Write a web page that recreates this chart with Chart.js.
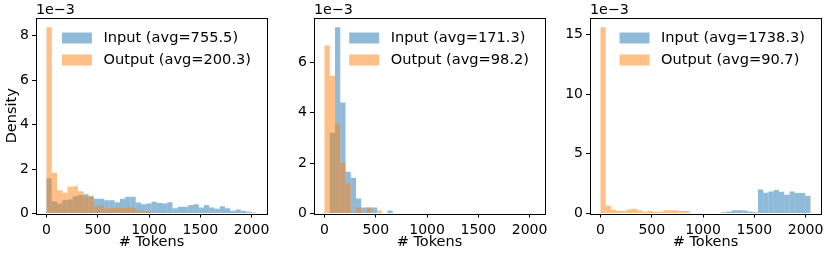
<!DOCTYPE html>
<html>
<head>
<meta charset="utf-8">
<script src="https://cdn.jsdelivr.net/npm/chart.js@4.4.1/dist/chart.umd.min.js"></script>
<style>
  html, body { margin: 0; padding: 0; background: #fff; }
  #wrap { position: relative; width: 830px; height: 255px; overflow: hidden; }
  #wrap canvas { position: absolute; top: 0; }
</style>
</head>
<body>
<div id="wrap">
  <canvas id="c1" width="275" height="255" style="left:0px"></canvas>
  <canvas id="c2" width="275" height="255" style="left:278px"></canvas>
  <canvas id="c3" width="275" height="255" style="left:554px"></canvas>
</div>
<script>
// histogram bins: 40 bins over 0..2048 tokens
const BIN_WIDTH = 51.2;
const NUM_BINS = 40;

// density values in units of 1e-3, one per bin
const inputLeft = [1.59, 0.55, 0.45, 0.60, 0.63, 0.78, 0.83, 0.87, 0.76, 0.66,
                   0.66, 0.60, 0.60, 0.51, 0.66, 0.75, 0.75, 0.50, 0.42, 0.45,
                   0.53, 0.47, 0.45, 0.51, 0.24, 0.30, 0.30, 0.38, 0.42, 0.27,
                   0.38, 0.27, 0.21, 0.33, 0.24, 0.12, 0.18, 0.12, 0.08, 0.05];
const outputLeft = [8.37, 1.83, 1.05, 0.93, 1.20, 1.23, 1.00, 0.75, 0.80, 0.33,
                    0.36, 0.22, 0.25, 0.26, 0.26, 0.27, 0.27, 0.12, 0.12, 0.10,
                    0, 0, 0, 0, 0, 0, 0, 0, 0, 0,
                    0, 0, 0, 0, 0, 0, 0, 0, 0, 0];

const inputMid = [0, 3.21, 7.40, 4.41, 1.66, 1.42, 0.60, 0.24, 0.24, 0.24,
                  0, 0, 0.12, 0, 0, 0, 0, 0, 0, 0,
                  0, 0, 0, 0, 0, 0, 0, 0, 0, 0,
                  0, 0, 0, 0, 0, 0, 0, 0, 0, 0];
const outputMid = [6.68, 5.47, 3.56, 2.02, 1.20, 0, 0.24, 0, 0.24, 0,
                   0.12, 0, 0, 0, 0, 0, 0, 0, 0, 0,
                   0, 0, 0, 0, 0, 0, 0, 0, 0, 0,
                   0, 0, 0, 0, 0, 0, 0, 0, 0, 0];

const inputRight = [0, 0, 0, 0, 0, 0, 0, 0, 0, 0,
                    0, 0, 0, 0, 0, 0, 0, 0, 0, 0,
                    0, 0, 0, 0.10, 0.17, 0.28, 0.28, 0.25, 0.17, 0.11,
                    2.02, 1.74, 1.85, 1.96, 1.82, 1.57, 1.85, 1.71, 1.71, 1.46];
const outputRight = [15.6, 0.65, 0.31, 0.22, 0.22, 0.34, 0.39, 0.28, 0.14, 0.20,
                     0.14, 0.14, 0.28, 0.28, 0.28, 0.20, 0.20, 0, 0, 0,
                     0, 0, 0, 0, 0, 0, 0, 0, 0, 0,
                     0, 0, 0, 0, 0, 0, 0, 0, 0, 0];

const legendLeft = ['Input (avg=755.5)', 'Output (avg=200.3)'];
const legendMid = ['Input (avg=171.3)', 'Output (avg=98.2)'];
const legendRight = ['Input (avg=1738.3)', 'Output (avg=90.7)'];

const xTicks = [0, 500, 1000, 1500, 2000];
const xTickLabels = ['0', '500', '1000', '1500', '2000'];
const yTicksLeft = [0, 2, 4, 6, 8];
const yTicksMid = [0, 2, 4, 6];
const yTicksRight = [0, 5, 10, 15];

const binCenters = Array.from({ length: NUM_BINS }, (_, i) => (i + 0.5) * BIN_WIDTH);

const BLUE = 'rgba(31, 119, 180, 0.5)';
const ORANGE = 'rgba(255, 127, 14, 0.5)';
const FONT = 'DejaVu Sans';

// frame, axis title, 1e-3 offset text and the legend drawn inside the axes
const framePlugin = {
    id: 'frame',
    afterDraw(chart, args, opts) {
        const ctx = chart.ctx;
        const a = chart.chartArea;
        ctx.save();
        ctx.strokeStyle = '#000';
        ctx.lineWidth = 1;
        ctx.strokeRect(Math.round(a.left) + 0.5, Math.round(a.top) + 0.5,
                       Math.round(a.right - a.left), Math.round(a.bottom - a.top));

        ctx.fillStyle = '#000';
        ctx.font = '14.3px "' + FONT + '"';
        ctx.textAlign = 'left';
        ctx.textBaseline = 'bottom';
        ctx.fillText('1e\u22123', a.left, a.top - 0.5);

        ctx.textAlign = 'center';
        ctx.textBaseline = 'middle';
        ctx.font = '14.5px "' + FONT + '"';
        ctx.fillText('# Tokens', (a.left + a.right) / 2, 242);

        ctx.textAlign = 'left';
        ctx.font = '14.6px "' + FONT + '"';
        const maxW = Math.max(...opts.labels.map(t => ctx.measureText(t).width));
        const textX = a.right - 16 - maxW;
        const handleX = textX - 11.5 - 30;
        const colors = [BLUE, ORANGE];
        opts.labels.forEach((t, i) => {
            const cy = a.top + 20 + i * 22;
            ctx.fillStyle = colors[i];
            ctx.fillRect(handleX, cy - 5.5, 30, 11);
            ctx.fillStyle = '#000';
            ctx.fillText(t, textX, cy + 0.5);
        });
        ctx.restore();
    }
};

function makePanel(id, inputVals, outputVals, legend, yTicks, showYTitle) {
    const peak = Math.max(...inputVals, ...outputVals);
    const toPoints = vals => vals.map((v, i) => ({ x: binCenters[i], y: v }));
    new Chart(document.getElementById(id), {
        type: 'bar',
        data: {
            datasets: [
                { label: legend[0], data: toPoints(inputVals), backgroundColor: BLUE, order: 1 },
                { label: legend[1], data: toPoints(outputVals), backgroundColor: ORANGE, order: 0 }
            ]
        },
        options: {
            responsive: false,
            animation: false,
            layout: { padding: { top: 18, right: 8, left: 0, bottom: 0 } },
            datasets: {
                bar: {
                    grouped: false,
                    barPercentage: 1,
                    categoryPercentage: 1,
                    borderWidth: 0,
                    inflateAmount: 0
                }
            },
            plugins: {
                legend: { display: false },
                tooltip: { enabled: false },
                frame: { labels: legend }
            },
            scales: {
                x: {
                    type: 'linear',
                    offset: false,
                    min: -0.05 * NUM_BINS * BIN_WIDTH,
                    max: 1.05 * NUM_BINS * BIN_WIDTH,
                    afterBuildTicks: s => { s.ticks = xTicks.map(v => ({ value: v })); },
                    afterFit: s => { s.height = 41.5; },
                    grid: { offset: false, drawOnChartArea: false, drawTicks: true, tickLength: 4, color: '#000' },
                    border: { display: false },
                    ticks: {
                        autoSkip: false, maxRotation: 0, padding: 4, color: '#000',
                        font: { family: FONT, size: 14 },
                        callback: (v, i) => xTickLabels[i]
                    }
                },
                y: {
                    type: 'linear',
                    min: 0,
                    max: 1.05 * peak,
                    afterBuildTicks: s => { s.ticks = yTicks.map(v => ({ value: v })); },
                    afterFit: s => { s.width = 36; },
                    grid: { drawOnChartArea: false, drawTicks: true, tickLength: 4, color: '#000' },
                    border: { display: false },
                    ticks: {
                        autoSkip: false, padding: 3, color: '#000',
                        font: { family: FONT, size: 14 },
                        callback: (v, i) => String(yTicks[i])
                    },
                    title: {
                        display: showYTitle, text: 'Density', color: '#000',
                        font: { family: FONT, size: 14.5 }, padding: { top: 4, bottom: 0 }
                    }
                }
            }
        },
        plugins: [framePlugin]
    });
}

makePanel('c1', inputLeft, outputLeft, legendLeft, yTicksLeft, true);
makePanel('c2', inputMid, outputMid, legendMid, yTicksMid, false);
makePanel('c3', inputRight, outputRight, legendRight, yTicksRight, false);
</script>
</body>
</html>
